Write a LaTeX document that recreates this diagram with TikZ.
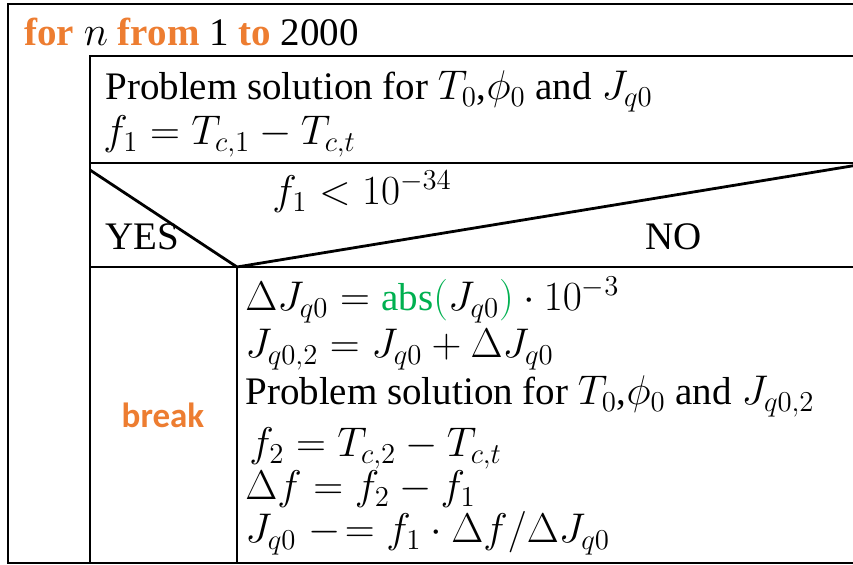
\documentclass[tikz,border=0pt]{standalone}
\usepackage{fontspec}
\setmainfont{Liberation Serif}
\newfontfamily\breakfont{Carlito}
\definecolor{kworange}{HTML}{ED7D31}
\definecolor{absgreen}{HTML}{00B050}
\newcommand{\kw}[1]{\textbf{\color{kworange}#1}}
\tikzset{
  txt/.style={anchor=base west,inner sep=0pt},
  frame/.style={line width=1.4pt,line join=miter}
}
\begin{document}
\begin{tikzpicture}[x=0.5pt,y=-0.5pt,font=\fontsize{19.5}{23}\selectfont]
			\def \xl{8};
			\def \xi{90};
			\def \xm{237};
			\def \xr{870};
			\def \yb{563};
			\useasboundingbox (0,0) rectangle (853,565);
			% loop frame
			\draw[frame] (\xr,4) -- (\xl,4) -- (\xl,\yb) -- (\xr,\yb);
			\draw[frame] (\xr,56) -- (\xi,56) -- (\xi,\yb);
			\draw[frame] (\xi,163) -- (\xr,163);
			% decision
			\coordinate (split) at (\xm,267);
			\draw[frame] (\xi,170) -- (split) -- (\xr,163);
			\draw[frame] (\xi,267) -- (\xr,267);
			\draw[frame] (split) -- (\xm,\yb);
			% texts
			\node[txt] (loop) at (24,46) {\kw{for} $n$ \kw{from} 1 \kw{to} 2000};
			\node[txt] (solve1) at (105,100) {Problem solution for $T_0$,$\phi_0$ and $J_{q0}$};
			\node[txt] (fone) at (103,145) {$f_1 = T_{c,1} - T_{c,t}$};
			\node[txt] (cond) at (272,205) {$f_1 < 10^{-34}$};
			\node[txt] (yes) at (105,250) {YES};
			\node[txt] (no) at (645,250) {NO};
			\node[font=\breakfont\fontsize{17.5}{20}\selectfont\bfseries,text=kworange] (brk) at (163,415) {break};
			\node[txt] (dj) at (245,311) {$\Delta J_{q0} = \textcolor{absgreen}{\mbox{abs}\bigl(}J_{q0}\textcolor{absgreen}{\bigr)} \cdot 10^{-3}$};
			\node[txt] (jtwo) at (245,358) {$J_{q0,2} = J_{q0} + \Delta J_{q0}$};
			\node[txt] (solve2) at (245,405) {Problem solution for $T_0$,$\phi_0$ and $J_{q0,2}$};
			\node[txt] (ftwo) at (249,457) {$f_2 = T_{c,2} - T_{c,t}$};
			\node[txt] (df) at (245,500) {$\Delta f = f_2 - f_1$};
			\node[txt] (upd) at (245,543) {$J_{q0} \mathrel{-\!=} f_1 \cdot \Delta f / \Delta J_{q0}$};
		\end{tikzpicture}
\end{document}
